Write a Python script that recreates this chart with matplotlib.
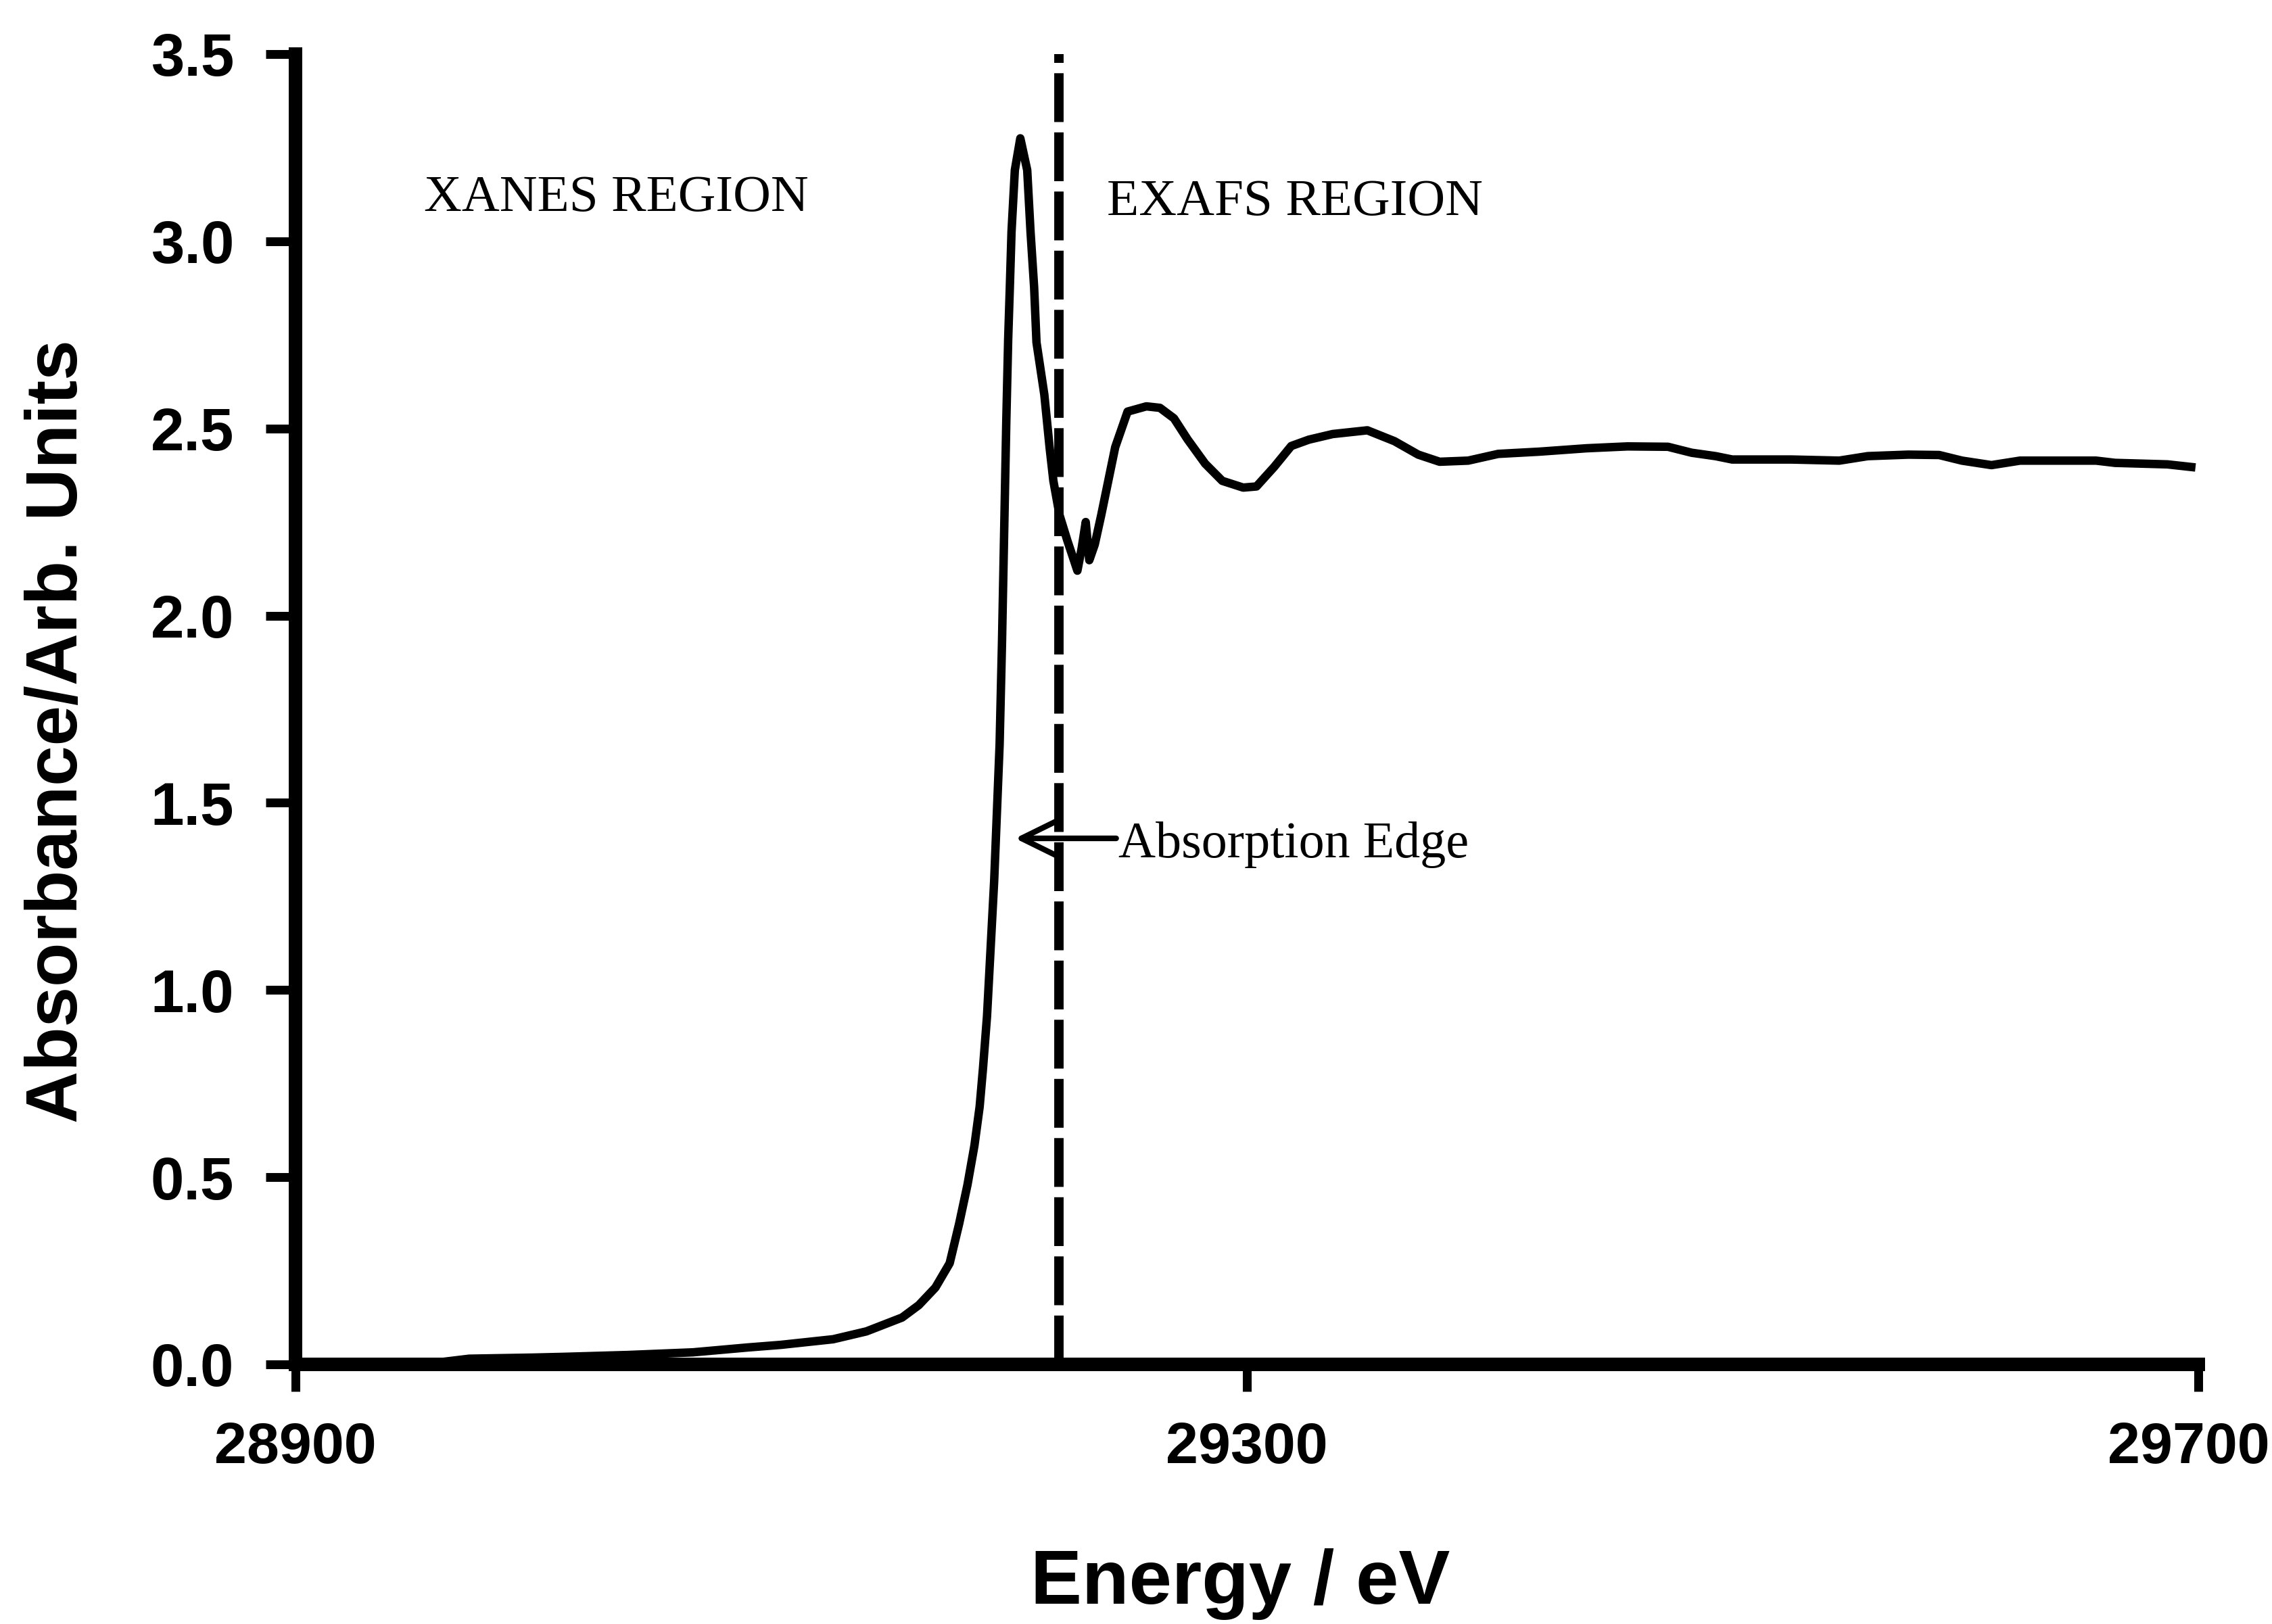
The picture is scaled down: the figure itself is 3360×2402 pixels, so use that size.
import matplotlib
matplotlib.use("Agg")
import matplotlib.pyplot as plt
from matplotlib.transforms import ScaledTranslation



# absorption spectrum (energy in eV, absorbance in arb. units)
ENERGY = [28900, 28930, 28960, 28973, 29000, 29013, 29040, 29067, 29090, 29104,
          29126, 29140, 29155, 29162, 29169, 29175, 29179, 29182.5, 29185.4, 29187.6,
          29189, 29190.7, 29193.7, 29196, 29197, 29197.9, 29198.8, 29199.6, 29200.3, 29201,
          29202.4, 29204.7, 29207.6, 29209, 29210.5, 29211.5, 29214.8, 29217, 29218.6, 29221.2,
          29224.5, 29228.7, 29230.5, 29232.2, 29233.7, 29236, 29238.7, 29244.6, 29249.8, 29257.7,
          29263.4, 29269.3, 29275, 29282.4, 29289.6, 29298.4, 29304, 29311.4, 29318.6, 29326,
          29336, 29350.6, 29362, 29372, 29381, 29393, 29405.6, 29423, 29442.7, 29460,
          29477, 29487, 29497, 29504, 29529, 29549, 29561, 29578, 29591, 29600.6,
          29613, 29625, 29657, 29665, 29687, 29697]
ABSORBANCE = [0.0, 0.002, 0.005, 0.015, 0.018, 0.02, 0.025, 0.032, 0.045, 0.052,
              0.067, 0.088, 0.125, 0.158, 0.205, 0.27, 0.376, 0.48, 0.584, 0.688,
              0.79, 0.93, 1.29, 1.656, 1.928, 2.221, 2.517, 2.739, 2.878, 3.025,
              3.19, 3.275, 3.19, 3.025, 2.878, 2.73, 2.59, 2.45, 2.36, 2.268,
              2.20, 2.12, 2.18, 2.25, 2.148, 2.19, 2.268, 2.45, 2.545, 2.559,
              2.555, 2.527, 2.471, 2.406, 2.36, 2.342, 2.345, 2.397, 2.453, 2.47,
              2.485, 2.495, 2.466, 2.43, 2.411, 2.414, 2.432, 2.438, 2.447, 2.452,
              2.451, 2.435, 2.426, 2.417, 2.417, 2.414, 2.426, 2.43, 2.429, 2.414,
              2.402, 2.414, 2.414, 2.408, 2.404, 2.397]

X_TICKS  = [28900, 29300, 29700]
Y_TICKS  = [0.0, 0.5, 1.0, 1.5, 2.0, 2.5, 3.0, 3.5]

EDGE_LINE_E = 29221          # dashed line separating XANES / EXAFS
ARROW_TIP   = (29202.5, 1.405)
ARROW_TAIL  = (29245, 1.405)



plt.rcParams['font.family'] = ['Liberation Sans', 'DejaVu Sans']

fig = plt.figure(figsize=(16.8, 12.01), dpi=200)
ax = fig.add_axes([0.1301, 0.1599, 0.8375, 0.8068])

ax.plot(ENERGY, ABSORBANCE, color='black', lw=4.5, clip_on=False, solid_joinstyle='round', zorder=3)
ax.axvline(EDGE_LINE_E, color='black', lw=5.0, dashes=(5.2, 1.1), zorder=2)

# region labels
serif = ['Liberation Serif', 'DejaVu Serif']
ax.text(28954, 3.081, 'XANES REGION', family=serif, fontsize=27.8, ha='left', va='baseline')
ax.text(29241, 3.070, 'EXAFS REGION', family=serif, fontsize=27.8, ha='left', va='baseline')
ax.text(29246, 1.3545, 'Absorption Edge', family=serif, fontsize=27.4, ha='left', va='baseline')
ax.annotate('', xy=ARROW_TIP, xytext=ARROW_TAIL,
            arrowprops=dict(arrowstyle='->,head_length=0.65,head_width=0.32', lw=3.0,
                            color='black', shrinkA=0, shrinkB=0, mutation_scale=28))

ax.set_xlim(28900, 29700)
ax.set_ylim(0, 3.5)
ax.set_xticks(X_TICKS)
ax.set_yticks(Y_TICKS)
ax.set_xticklabels([str(x) for x in X_TICKS])
ax.set_yticklabels(['%.1f' % y for y in Y_TICKS])

for side in ['top', 'right']:
    ax.spines[side].set_visible(False)
for side in ['left', 'bottom']:
    ax.spines[side].set_linewidth(7.2)

ax.tick_params(axis='y', direction='out', length=15.8, width=4.7, pad=17, labelsize=32)
ax.tick_params(axis='x', direction='out', length=14.4, width=4.7, pad=16, labelsize=31)
for lab in ax.get_xticklabels() + ax.get_yticklabels():
    lab.set_fontweight('bold')

# last x label sits right at the figure edge, nudge it inside
last = ax.get_xticklabels()[-1]
last.set_transform(last.get_transform() + ScaledTranslation(-0.07, 0, fig.dpi_scale_trans))

ax.set_ylabel('Absorbance/Arb. Units', fontsize=38.5, fontweight='bold', va='center')
ax.yaxis.set_label_coords(86/3360, 1-1082/2402, transform=fig.transFigure)
ax.set_xlabel('Energy / eV', fontsize=41, fontweight='bold', va='baseline')
ax.xaxis.set_label_coords(1834/3360, 1-2372/2402, transform=fig.transFigure)

fig.savefig('out.png', dpi=200, facecolor='white')
